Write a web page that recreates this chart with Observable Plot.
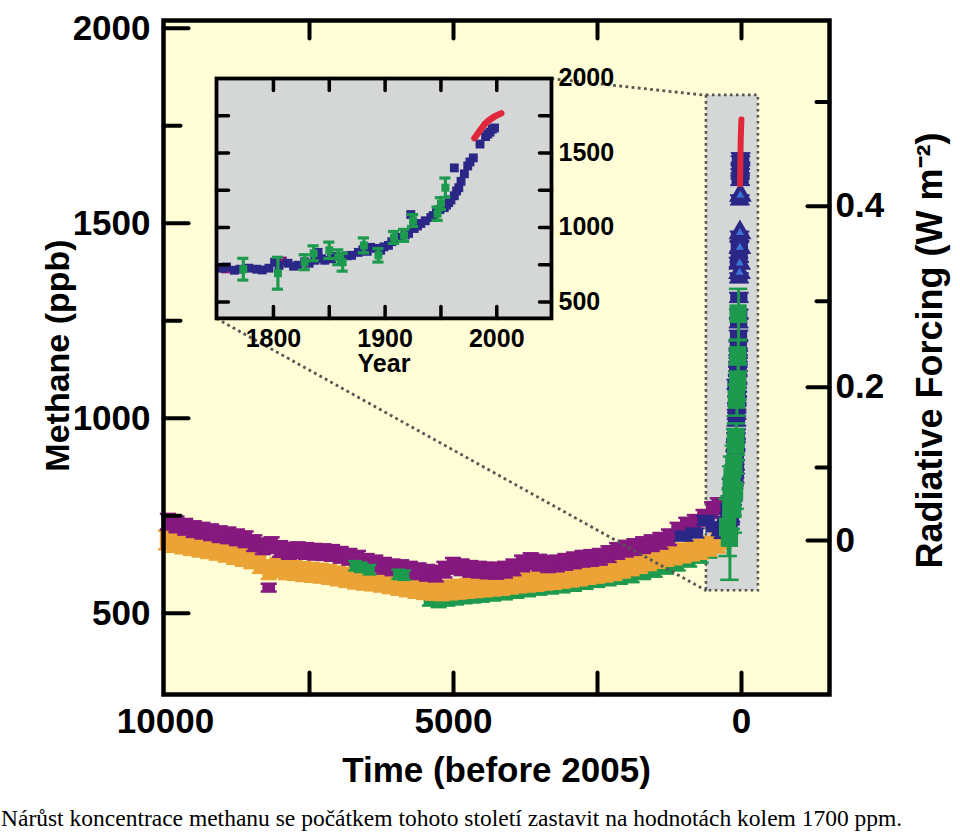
<!DOCTYPE html>
<html><head><meta charset="utf-8">
<script src="https://cdn.jsdelivr.net/npm/d3@7"></script>
<script src="https://cdn.jsdelivr.net/npm/@observablehq/plot@0.6"></script>
<style>
body{margin:0;background:#fff;}
#wrap{position:relative;width:960px;height:800px;}
#inset{position:absolute;}
#caption{font-family:"Liberation Serif","Times New Roman",serif;font-size:23.5px;line-height:26px;padding-top:5px;white-space:nowrap;color:#000;margin-left:1px;}
</style></head><body>
<div id="wrap"></div>
<div id="caption">Nárůst koncentrace methanu se počátkem tohoto století zastavit na hodnotách kolem 1700 ppm.</div>
<script>
// ---------- DATA ----------
// Holocene ice-core records: [years before 2005, methane ppb]
const purpleHolocene = [[9950,735],[9800,728],[9650,722],[9500,716],[9350,712],[9200,708],[9050,703],[8900,700],[8750,695],[8600,690],[8450,680],[8300,672],[8200,566],[8150,675],[8000,665],[7850,660],[7700,662],[7550,660],[7400,658],[7250,657],[7100,655],[6950,650],[6800,645],[6650,640],[6500,632],[6350,628],[6200,622],[6050,618],[5900,616],[5750,612],[5600,608],[5450,604],[5300,602],[5150,612],[5000,622],[4850,618],[4700,614],[4550,612],[4400,610],[4250,609],[4100,612],[3950,618],[3800,628],[3650,634],[3500,630],[3350,626],[3200,628],[3050,632],[2900,636],[2750,640],[2600,642],[2450,645],[2300,652],[2150,660],[2000,666],[1850,670],[1700,675],[1550,680],[1400,686],[1250,695],[1100,712],[950,725],[800,732],[650,745],[500,765],[400,775]];
const orangeHolocene = [[9980,688],[9850,682],[9700,678],[9550,674],[9400,670],[9250,666],[9100,662],[8950,657],[8800,651],[8650,646],[8500,640],[8350,628],[8200,612],[8050,618],[7900,612],[7750,610],[7600,607],[7450,605],[7300,603],[7150,600],[7000,596],[6850,592],[6700,588],[6550,585],[6400,583],[6250,580],[6100,576],[5950,572],[5800,568],[5650,564],[5500,561],[5350,559],[5200,558],[5050,560],[4900,562],[4750,564],[4600,566],[4450,568],[4300,570],[4150,572],[4000,575],[3850,578],[3700,580],[3550,582],[3400,585],[3250,587],[3100,590],[2950,593],[2800,596],[2650,600],[2500,603],[2350,606],[2200,610],[2050,616],[1900,622],[1750,628],[1600,635],[1450,641],[1300,646],[1150,650],[1000,655],[850,660],[700,664],[550,672],[400,680],[300,690]];
const greenHolocene = [[6700,622],[6600,618],[6450,612],[5950,600],[5850,598],[5400,532],[5250,528],[5100,532],[4950,535],[4800,538],[4650,540],[4500,542],[4300,545],[4100,548],[3900,552],[3700,556],[3500,560],[3300,563],[3100,566],[2900,570],[2700,575],[2500,580],[2300,584],[2100,588],[1900,592],[1700,600],[1500,606],[1300,614],[1100,622],[900,632],[700,642],[550,655]];
// Recent records: [year AD, methane ppb]
const purpleModern = [[1752,733],[1757,722],[1808,775]];
const navyRecord = [[1010,698],[1200,706],[1400,738],[1550,722],[1650,712],[1700,705],[1754,727],[1758,735],[1765,713],[1770,720],[1778,727],[1785,720],[1790,715],[1796,727],[1801,767],[1805,745],[1813,760],[1818,740],[1822,747],[1828,770],[1832,760],[1837,780],[1840,833],[1843,790],[1846,780],[1852,790],[1856,805],[1861,800],[1866,810],[1870,813],[1876,833],[1880,850],[1884,840],[1887,867],[1892,860],[1896,847],[1899,870],[1903,880],[1906,905],[1910,927],[1914,933],[1918,950],[1921,960],[1923,1087],[1926,993],[1929,1010],[1932,1027],[1936,1045],[1941,1067],[1943,1080],[1946,1100],[1949,1120],[1953,1133],[1955,1150],[1957,1167],[1959,1185],[1962,1213],[1962,1400],[1964,1245],[1966,1267],[1968,1310],[1971,1360],[1974,1413],[1976,1440],[1979,1467],[1985,1560],[1990,1610],[1992,1627],[1994,1640],[1996,1660],[1998,1668]];
const navyTriangles = [[1985,1572],[1978,1476],[1976,1438],[1973,1398],[1971,1374]];
// [year AD, ppb, error]
const greenModern = [[1773,720,73],[1804,693,107],[1828,767,50],[1836,827,50],[1850,847,55],[1858,800,50],[1862,767,60],[1881,880,50],[1894,813,45],[1908,933,40],[1917,947,40],[1925,1047,40],[1947,1093,45],[1950,1160,40],[1954,1267,65]];
const atmospheric = [[1980,1600],[1983,1630],[1986,1662],[1989,1692],[1992,1714],[1995,1730],[1998,1745],[2001,1756],[2004,1766]];
// axes
const methaneTicks = [500,1000,1500,2000];
const methaneMinor = [750,1250,1750];
const timeLabels = [10000,5000,0];
const timeTickMarks = [7500,5000,2500,0];
const forcingTicks = [{f:"0",ppb:687,labeled:true},{f:"0.1",ppb:874,labeled:false},{f:"0.2",ppb:1080,labeled:true},{f:"0.3",ppb:1300,labeled:false},{f:"0.4",ppb:1544,labeled:true},{f:"0.5",ppb:1811,labeled:false}];
const yearLabels = [1800,1900,2000];
const yearTickMarks = [1800,1850,1900,1950,2000];
const insetPpbLabels = [500,1000,1500,2000];
const insetPpbMarks = [500,750,1000,1250,1500,1750];
// inset placement and zoom box, in main-chart data units [t1, t2, ppb1, ppb2]
const insetBox = [9115, 3299, 1256, 1871];
const zoomBox = [609, -294, 558, 1828];
const REF_YEAR = 2005;

// ---------- STYLE ----------
const C = {yellow:"#FFFDD5", gray:"#D4D7D5", purple:"#86197F", orange:"#EBA336", green:"#1E9A4E", navy:"#2A2787", red:"#E0283C", tri:"#3E74D8", dots:"#555"};
const FONT = "Liberation Sans, Arial, Helvetica, sans-serif";
const tickShape = {draw(ctx, l){ ctx.moveTo(0,0); ctx.lineTo(0,-l); }};
const tk = (data, opts) => Plot.vector(data, {shape: tickShape, anchor: "start", stroke: "black", strokeWidth: 4, ...opts});

const rowsBP = (arr, e) => arr.map(([t,v]) => ({t, v, e}));
const rowsAD = (arr, e) => arr.map(([y,v,err]) => ({t: REF_YEAR - y, year: y, v, e: err ?? e}));

const purpleRows = rowsBP(purpleHolocene, 20).map(d => d.v < 600 ? {...d, e: 10} : d).concat(rowsAD(purpleModern, 14));
const orangeRows = rowsBP(orangeHolocene, 24);
const greenRows = rowsBP(greenHolocene, 12);
const navyRows = rowsAD(navyRecord, 12);
const greenModRows = rowsAD(greenModern);
const triRows = rowsAD(navyTriangles, 0);
const redRows = rowsAD(atmospheric, 0);

function band(rows, color, hw, cap, capW = 2.5) {
  return [
    Plot.rect(rows, {x1: d => d.t + hw, x2: d => d.t - hw, y1: d => d.v - d.e, y2: d => d.v + d.e, fill: color}),
    Plot.ruleY(rows, {y: d => d.v + d.e, x1: d => d.t + cap, x2: d => d.t - cap, stroke: color, strokeWidth: capW}),
    Plot.ruleY(rows, {y: d => d.v - d.e, x1: d => d.t + cap, x2: d => d.t - cap, stroke: color, strokeWidth: capW})
  ];
}
const txt = {fontFamily: FONT, fontWeight: "bold", fill: "black"};

const main = Plot.plot({
  width: 960, height: 800,
  marginLeft: 163, marginRight: 131, marginTop: 20, marginBottom: 106,
  x: {domain: [10035, -1528], axis: null},
  y: {domain: [292, 2020], axis: null},
  style: {background: "transparent", overflow: "visible", fontFamily: FONT},
  marks: [
    Plot.frame({fill: C.yellow, stroke: null}),
    Plot.rect([zoomBox], {x1: d => d[0], x2: d => d[1], y1: d => d[2], y2: d => d[3], fill: C.gray, stroke: C.dots, strokeWidth: 2.6, strokeDasharray: "2.6,3.4"}),
    ...band(greenRows, C.green, 110, 140),
    ...band(orangeRows, C.orange, 110, 140),
    ...band(purpleRows, C.purple, 110, 140),
    ...band(greenRows.filter(d => d.t > 5800), C.green, 90, 120),
    ...band(navyRows, C.navy, 150, 170, 2),
    Plot.ruleX(greenModRows, {x: "t", y1: d => d.v - d.e, y2: d => d.v + d.e, stroke: C.green, strokeWidth: 3}),
    Plot.rect(greenModRows, {x1: d => d.t + 150, x2: d => d.t - 150, y1: d => d.v - 24, y2: d => d.v + 24, fill: C.green}),
    Plot.ruleY(greenModRows, {y: d => d.v + d.e, x1: d => d.t + 160, x2: d => d.t - 160, stroke: C.green, strokeWidth: 2.5}),
    Plot.ruleY(greenModRows, {y: d => d.v - d.e, x1: d => d.t + 160, x2: d => d.t - 160, stroke: C.green, strokeWidth: 2.5}),
    Plot.dot(triRows, {x: "t", y: "v", symbol: "triangle", r: 8.5, fill: C.navy}),
    Plot.dot(triRows, {x: "t", y: "v", symbol: "triangle", r: 3, fill: C.tri}),
    Plot.line(redRows, {x: "t", y: "v", stroke: C.red, strokeWidth: 6}),
    Plot.link([{x1: insetBox[1], y1: insetBox[3], x2: zoomBox[0], y2: zoomBox[3]}, {x1: insetBox[0], y1: insetBox[2], x2: zoomBox[0], y2: zoomBox[2]}],
      {x1: "x1", y1: "y1", x2: "x2", y2: "y2", stroke: C.dots, strokeWidth: 2.8, strokeDasharray: "2.8,3.4"}),
    Plot.frame({stroke: "black", strokeWidth: 4.5}),
    // ticks
    tk(methaneTicks, {y: d => d, frameAnchor: "left", rotate: 90, length: 25}),
    tk(methaneMinor, {y: d => d, frameAnchor: "left", rotate: 90, length: 17}),
    tk(forcingTicks.filter(d => d.labeled), {y: "ppb", frameAnchor: "right", rotate: 270, length: 22}),
    tk(forcingTicks.filter(d => !d.labeled), {y: "ppb", frameAnchor: "right", rotate: 270, length: 13}),
    tk(timeTickMarks, {x: d => d, frameAnchor: "bottom", rotate: 0, length: 22}),
    tk(timeTickMarks, {x: d => d, frameAnchor: "top", rotate: 180, length: 18}),
    // tick labels
    Plot.text(methaneTicks, {y: d => d, text: d => String(d), frameAnchor: "left", textAnchor: "end", dx: -13, fontSize: 35, ...txt}),
    Plot.text(timeLabels, {x: d => d, text: d => String(d), frameAnchor: "bottom", lineAnchor: "top", dy: 14, fontSize: 35, ...txt}),
    Plot.text(forcingTicks.filter(d => d.labeled), {y: "ppb", text: "f", frameAnchor: "right", textAnchor: "start", dx: 6, fontSize: 35, ...txt}),
    // titles
    Plot.text(["Methane (ppb)"], {frameAnchor: "left", textAnchor: "middle", lineAnchor: "middle", dx: -105, dy: -2, rotate: -90, fontSize: 34, ...txt}),
    Plot.text(["Radiative Forcing (W m\u207B\u00B2)"], {frameAnchor: "right", textAnchor: "middle", lineAnchor: "middle", dx: 101, dy: -7, rotate: -90, fontSize: 36, ...txt}),
    Plot.text(["Time (before 2005)"], {frameAnchor: "bottom", textAnchor: "middle", lineAnchor: "middle", dy: 76, fontSize: 35, ...txt})
  ]
});
document.getElementById("wrap").append(main);

// ---------- INSET ----------
const sx = main.scale("x"), sy = main.scale("y");
const fx = d3.scaleLinear(sx.domain, sx.range), fy = d3.scaleLinear(sy.domain, sy.range);
const L = fx(insetBox[0]), R = fx(insetBox[1]), T = fy(insetBox[3]), B = fy(insetBox[2]);
const mL = 3, mR = 80, mT = 16, mB = 62;
const itk = (data, opts) => Plot.vector(data, {shape: tickShape, anchor: "start", stroke: "black", strokeWidth: 3.5, length: 12, ...opts});
const insetNavy = navyRows.filter(d => d.year >= 1749);
const insetPurple = rowsAD(purpleModern, 0);
const inset = Plot.plot({
  width: (R - L) + mL + mR, height: (B - T) + mT + mB,
  marginLeft: mL, marginRight: mR, marginTop: mT, marginBottom: mB,
  x: {domain: [1749, 2049], axis: null},
  y: {domain: [390, 2000], axis: null},
  style: {background: "transparent", overflow: "visible", fontFamily: FONT},
  marks: [
    Plot.frame({fill: C.gray, stroke: null}),
    Plot.dot(insetPurple, {x: "year", y: "v", symbol: "square", r: 5, fill: C.purple}),
    Plot.dot(insetNavy, {x: "year", y: "v", symbol: "square", r: 5, fill: C.navy}),
    Plot.ruleX(greenModRows, {x: "year", y1: d => d.v - d.e, y2: d => d.v + d.e, stroke: C.green, strokeWidth: 3.2}),
    Plot.ruleY(greenModRows, {y: d => d.v + d.e, x1: d => d.year - 5, x2: d => d.year + 5, stroke: C.green, strokeWidth: 3.2}),
    Plot.ruleY(greenModRows, {y: d => d.v - d.e, x1: d => d.year - 5, x2: d => d.year + 5, stroke: C.green, strokeWidth: 3.2}),
    Plot.dot(greenModRows, {x: "year", y: "v", symbol: "square", r: 4.5, fill: C.green}),
    Plot.line(redRows, {x: "year", y: "v", stroke: C.red, strokeWidth: 6.5, strokeLinecap: "round"}),
    Plot.frame({stroke: "black", strokeWidth: 3.8}),
    itk(insetPpbMarks, {y: d => d, frameAnchor: "left", rotate: 90}),
    itk(insetPpbMarks, {y: d => d, frameAnchor: "right", rotate: 270}),
    itk(yearTickMarks, {x: d => d, frameAnchor: "bottom", rotate: 0}),
    itk(yearTickMarks, {x: d => d, frameAnchor: "top", rotate: 180}),
    Plot.text(insetPpbLabels, {y: d => d, text: d => String(d), frameAnchor: "right", textAnchor: "start", dx: 7, fontSize: 25, ...txt}),
    Plot.text(yearLabels, {x: d => d, text: d => String(d), frameAnchor: "bottom", lineAnchor: "top", dy: 11, fontSize: 25, ...txt}),
    Plot.text(["Year"], {frameAnchor: "bottom", textAnchor: "middle", lineAnchor: "middle", dy: 46, fontSize: 25, ...txt})
  ]
});
const holder = document.createElement("div");
holder.id = "inset";
holder.style.left = (L - mL) + "px";
holder.style.top = (T - mT) + "px";
holder.append(inset);
document.getElementById("wrap").append(holder);
</script>
</body></html>
